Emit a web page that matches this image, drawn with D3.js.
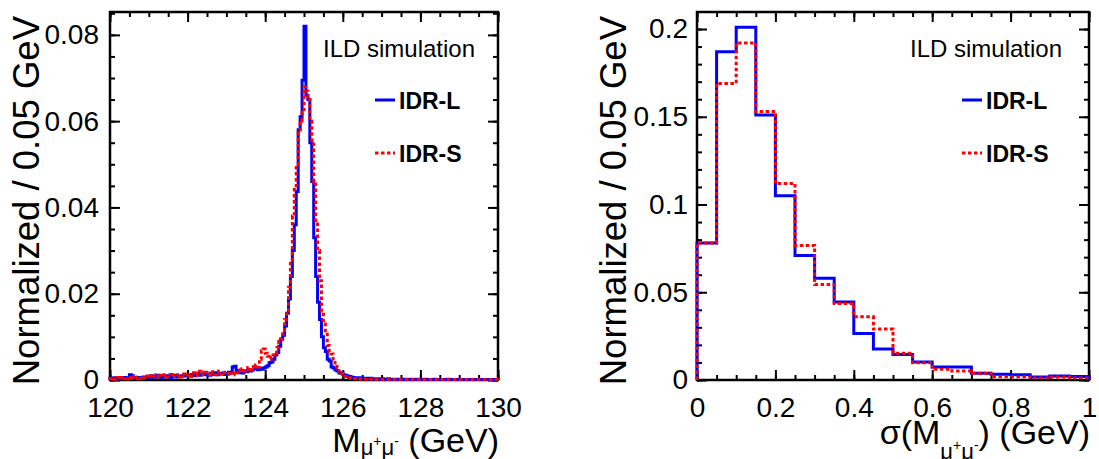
<!DOCTYPE html>
<html>
<head>
<meta charset="utf-8">
<script src="https://cdn.jsdelivr.net/npm/d3@7"></script>
<style>
    body { margin: 0; background: #fff; }
    svg { display: block; font-family: "Liberation Sans", Arial, Helvetica, sans-serif; }
</style>
</head>
<body>
<div id="chart"></div>
<script>
// left panel: dimuon mass, 200 bins of 0.05 GeV starting at 120 GeV
const massStart = 120;
const massBinWidth = 0.05;
const massIDRL = [
    0.0004, 0.0003, 0.0005, 0.0004, 0.0003, 0.0005, 0.0004, 0.0006, 0.0004, 0.0005,
    0.0012, 0.0010, 0.0005, 0.0004, 0.0006, 0.0005, 0.0004, 0.0007, 0.0005, 0.0006,
    0.0008, 0.0010, 0.0006, 0.0007, 0.0011, 0.0008, 0.0006, 0.0009, 0.0007, 0.0010,
    0.0008, 0.0006, 0.0009, 0.0011, 0.0007, 0.0009, 0.0008, 0.0010, 0.0012, 0.0009,
    0.0011, 0.0009, 0.0013, 0.0010, 0.0012, 0.0015, 0.0011, 0.0013, 0.0016, 0.0012,
    0.0014, 0.0011, 0.0015, 0.0013, 0.0017, 0.0012, 0.0015, 0.0014, 0.0016, 0.0013,
    0.0015, 0.0018, 0.0016, 0.0030, 0.0032, 0.0022, 0.0017, 0.0020, 0.0016, 0.0021,
    0.0019, 0.0024, 0.0021, 0.0023, 0.0030, 0.0026, 0.0024, 0.0028, 0.0025, 0.0028,
    0.0030, 0.0033, 0.0040, 0.0042, 0.0048, 0.0058, 0.0064, 0.0078, 0.0095, 0.0104,
    0.0125, 0.0155, 0.0188, 0.0240, 0.0300, 0.0360, 0.0437, 0.0580, 0.0610, 0.0695,
    0.0820, 0.0660, 0.0650, 0.0550, 0.0460, 0.0330, 0.0240, 0.0180, 0.0140, 0.0100,
    0.0075, 0.0066, 0.0048, 0.0044, 0.0030, 0.0028, 0.0023, 0.0021, 0.0016, 0.0017,
    0.0012, 0.0011, 0.0009, 0.0008, 0.0007, 0.0006, 0.0005, 0.0005, 0.0004, 0.0005,
    0.0004, 0.0003, 0.0004, 0.0003, 0.0004, 0.0003, 0.0002, 0.0003, 0.0003, 0.0002,
    0.0003, 0.0002, 0.0002, 0.0003, 0.0002, 0.0002, 0.0001, 0.0002, 0.0002, 0.0001,
    0.0002, 0.0001, 0.0002, 0.0001, 0.0001, 0.0002, 0.0001, 0.0001, 0.0002, 0.0001,
    0.0001, 0.0001, 0.0002, 0.0001, 0.0001, 0.0001, 0.0001, 0.0002, 0.0001, 0.0001,
    0.0001, 0.0001, 0.0001, 0.0001, 0.0002, 0.0001, 0.0001, 0.0001, 0.0001, 0.0001,
    0.0001, 0.0001, 0.0001, 0.0001, 0.0001, 0.0001, 0.0001, 0.0001, 0.0001, 0.0001,
    0.0001, 0.0001, 0.0001, 0.0001, 0.0001, 0.0001, 0.0001, 0.0001, 0.0001, 0.0001
];
const massIDRS = [
    0.0003, 0.0005, 0.0002, 0.0004, 0.0006, 0.0003, 0.0005, 0.0007, 0.0003, 0.0006,
    0.0004, 0.0008, 0.0005, 0.0003, 0.0007, 0.0004, 0.0008, 0.0005, 0.0006, 0.0009,
    0.0006, 0.0009, 0.0012, 0.0007, 0.0010, 0.0006, 0.0011, 0.0008, 0.0012, 0.0007,
    0.0010, 0.0013, 0.0008, 0.0011, 0.0009, 0.0012, 0.0007, 0.0011, 0.0014, 0.0010,
    0.0012, 0.0008, 0.0014, 0.0017, 0.0011, 0.0015, 0.0020, 0.0014, 0.0012, 0.0018,
    0.0016, 0.0013, 0.0019, 0.0015, 0.0012, 0.0017, 0.0021, 0.0014, 0.0018, 0.0016,
    0.0013, 0.0019, 0.0015, 0.0012, 0.0020, 0.0017, 0.0023, 0.0018, 0.0026, 0.0021,
    0.0025, 0.0029, 0.0024, 0.0031, 0.0027, 0.0035, 0.0030, 0.0048, 0.0068, 0.0072,
    0.0062, 0.0055, 0.0048, 0.0052, 0.0058, 0.0062, 0.0075, 0.0090, 0.0095, 0.0115,
    0.0140, 0.0160, 0.0215, 0.0270, 0.0380, 0.0450, 0.0500, 0.0580, 0.0600, 0.0620,
    0.0680, 0.0670, 0.0650, 0.0600, 0.0556, 0.0460, 0.0370, 0.0300, 0.0230, 0.0160,
    0.0130, 0.0110, 0.0080, 0.0065, 0.0060, 0.0045, 0.0035, 0.0028, 0.0020, 0.0015,
    0.0012, 0.0008, 0.0006, 0.0005, 0.0004, 0.0004, 0.0003, 0.0003, 0.0002, 0.0003,
    0.0002, 0.0002, 0.0002, 0.0001, 0.0002, 0.0001, 0.0001, 0.0001, 0.0001, 0.0001,
    0.0001, 0.0001, 0.0001, 0.0001, 0.0001, 0.0001, 0.0001, 0.0001, 0.0001, 0.0001,
    0.0001, 0.0001, 0.0001, 0.0001, 0.0001, 0.0001, 0.0001, 0.0001, 0.0001, 0.0001,
    0.0001, 0.0001, 0.0001, 0.0001, 0.0001, 0.0001, 0.0001, 0.0001, 0.0001, 0.0001,
    0.0001, 0.0001, 0.0001, 0.0001, 0.0001, 0.0001, 0.0001, 0.0001, 0.0001, 0.0001,
    0.0001, 0.0001, 0.0001, 0.0001, 0.0001, 0.0001, 0.0001, 0.0001, 0.0001, 0.0001,
    0.0001, 0.0001, 0.0001, 0.0001, 0.0001, 0.0001, 0.0001, 0.0001, 0.0001, 0.0001
];

// right panel: mass resolution, 20 bins of 0.05 GeV starting at 0
const sigmaStart = 0;
const sigmaBinWidth = 0.05;
const sigmaIDRL = [0.078, 0.187, 0.201, 0.151, 0.105, 0.071, 0.058, 0.0445, 0.0265, 0.0176,
                   0.0146, 0.0102, 0.0074, 0.0074, 0.0038, 0.0033, 0.0030, 0.0017, 0.0023, 0.0020];
const sigmaIDRS = [0.078, 0.169, 0.192, 0.153, 0.112, 0.0767, 0.0544, 0.0436, 0.036, 0.029,
                   0.0152, 0.0098, 0.0061, 0.0051, 0.0038, 0.0019, 0.0019, 0.0011, 0.0017, 0.0011];

// tick labels
const massXTicks = [120, 122, 124, 126, 128, 130];
const massYTicks = [0, 0.02, 0.04, 0.06, 0.08];
const sigmaXTicks = [0, 0.2, 0.4, 0.6, 0.8, 1];
const sigmaYTicks = [0, 0.05, 0.1, 0.15, 0.2];

const seriesNames = ["IDR-L", "IDR-S"];
const seriesColors = ["#0000ff", "#ff0000"];

const width = 1099, height = 459;

const svg = d3.select("#chart").append("svg")
    .attr("width", width)
    .attr("height", height);

svg.append("rect").attr("width", width).attr("height", height).attr("fill", "#fff");

class HistPanel {

    constructor(svg, cfg) {
        this.svg = svg;
        this.cfg = cfg;
        this.initVis();
    }

    initVis() {
        let vis = this;
        let c = vis.cfg;

        vis.g = vis.svg.append("g");

        vis.x = d3.scaleLinear().domain(c.xDomain).range([c.left, c.right]);
        vis.y = d3.scaleLinear().domain(c.yDomain).range([c.bottom, c.top]);

        vis.drawAxes();
        vis.drawHists();
        vis.drawText();
    }

    drawAxes() {
        let vis = this;
        let c = vis.cfg;

        const styleAxis = g => {
            g.select(".domain").remove();
            g.attr("font-family", null).attr("font-size", 28);
            g.selectAll("line").attr("stroke", "#000").attr("stroke-width", 2);
            g.selectAll("text").attr("fill", "#000");
        };

        // minor ticks first, majors on top
        vis.g.append("g").attr("transform", `translate(0,${c.bottom})`)
            .call(d3.axisBottom(vis.x).tickValues(c.xMinor).tickSize(-5).tickFormat(""))
            .call(styleAxis);
        vis.g.append("g").attr("transform", `translate(0,${c.top})`)
            .call(d3.axisTop(vis.x).tickValues(c.xMinor).tickSize(-5).tickFormat(""))
            .call(styleAxis);
        vis.g.append("g").attr("transform", `translate(${c.left},0)`)
            .call(d3.axisLeft(vis.y).tickValues(c.yMinor).tickSize(-5).tickFormat(""))
            .call(styleAxis);
        vis.g.append("g").attr("transform", `translate(${c.right},0)`)
            .call(d3.axisRight(vis.y).tickValues(c.yMinor).tickSize(-5).tickFormat(""))
            .call(styleAxis);

        vis.g.append("g").attr("transform", `translate(0,${c.bottom})`)
            .call(d3.axisBottom(vis.x).tickValues(c.xTicks).tickSize(-10).tickPadding(17)
                .tickFormat(d3.format("~g")))
            .call(styleAxis);
        vis.g.append("g").attr("transform", `translate(0,${c.top})`)
            .call(d3.axisTop(vis.x).tickValues(c.xTicks).tickSize(-10).tickFormat(""))
            .call(styleAxis);
        vis.g.append("g").attr("transform", `translate(${c.left},0)`)
            .call(d3.axisLeft(vis.y).tickValues(c.yTicks).tickSize(-10).tickPadding(c.yPad)
                .tickFormat(d3.format("~g")))
            .call(styleAxis);
        vis.g.append("g").attr("transform", `translate(${c.right},0)`)
            .call(d3.axisRight(vis.y).tickValues(c.yTicks).tickSize(-10).tickFormat(""))
            .call(styleAxis);

        // frame
        vis.g.append("rect")
            .attr("x", c.left)
            .attr("y", c.top)
            .attr("width", c.right - c.left)
            .attr("height", c.bottom - c.top)
            .attr("fill", "none")
            .attr("stroke", "#000")
            .attr("stroke-width", 2.5);
    }

    drawHists() {
        let vis = this;
        let c = vis.cfg;

        // outline of a histogram: up from zero at the first edge, steps, back to zero
        const stepPoints = values => {
            let pts = [[c.start, 0]];
            values.forEach((v, i) => {
                pts.push([c.start + i * c.binWidth, v]);
                pts.push([c.start + (i + 1) * c.binWidth, v]);
            });
            pts.push([c.start + values.length * c.binWidth, 0]);
            return pts;
        };

        const line = d3.line()
            .x(d => vis.x(d[0]))
            .y(d => vis.y(d[1]));

        c.series.forEach((values, k) => {
            vis.g.append("path")
                .attr("d", line(stepPoints(values)))
                .attr("fill", "none")
                .attr("stroke", seriesColors[k])
                .attr("stroke-width", 3)
                .attr("stroke-linejoin", "miter")
                .attr("stroke-dasharray", k === 1 ? "3.5,2.5" : null);
        });
    }

    drawText() {
        let vis = this;
        let c = vis.cfg;

        // y title
        vis.g.append("text")
            .attr("transform", `translate(${c.yTitleX},16) rotate(-90)`)
            .attr("text-anchor", "end")
            .attr("font-size", 36.5)
            .text("Normalized / 0.05 GeV");

        // x title
        c.xTitle(vis.g.append("text")
            .attr("x", c.right + 1)
            .attr("y", c.xTitleY)
            .attr("text-anchor", "end")
            .attr("font-size", 34));

        // label and legend
        let lx = c.left + 213;
        vis.g.append("text")
            .attr("x", lx)
            .attr("y", 57)
            .attr("font-size", 24)
            .text("ILD simulation");

        seriesNames.forEach((name, k) => {
            let ly = 100 + k * 53;
            vis.g.append("line")
                .attr("x1", c.left + 265).attr("x2", c.left + 285)
                .attr("y1", ly).attr("y2", ly)
                .attr("stroke", seriesColors[k])
                .attr("stroke-width", 3)
                .attr("stroke-dasharray", k === 1 ? "3.5,2.5" : null);
            vis.g.append("text")
                .attr("x", c.left + 289)
                .attr("y", ly + 9)
                .attr("font-size", 23)
                .attr("font-weight", "bold")
                .text(name);
        });
    }
}

// subscript mu+mu- as tspans
const muPair = (t, drop) => {
    t.append("tspan").attr("font-size", 22).attr("dy", drop).text("\u03bc");
    t.append("tspan").attr("font-size", 14).attr("dy", -9).text("+");
    t.append("tspan").attr("font-size", 22).attr("dy", 9).text("\u03bc");
    t.append("tspan").attr("font-size", 14).attr("dy", -9).text("-");
};

new HistPanel(svg, {
    left: 110, right: 498, top: 12, bottom: 380,
    xDomain: [120, 130], yDomain: [0, 0.0853],
    xTicks: massXTicks, yTicks: massYTicks,
    xMinor: d3.range(120, 130.01, 0.5),
    yMinor: d3.range(0, 0.0851, 0.005),
    start: massStart, binWidth: massBinWidth,
    series: [massIDRL, massIDRS],
    yPad: 11, yTitleX: 39, xTitleY: 452,
    xTitle: t => {
        t.append("tspan").text("M");
        muPair(t, 3);
        t.append("tspan").attr("dy", 6).text("\u00a0(GeV)");
    }
});

new HistPanel(svg, {
    left: 697, right: 1089, top: 12, bottom: 380,
    xDomain: [0, 1], yDomain: [0, 0.2097],
    xTicks: sigmaXTicks, yTicks: sigmaYTicks,
    xMinor: d3.range(0, 1.001, 0.05),
    yMinor: d3.range(0, 0.2091, 0.01),
    start: sigmaStart, binWidth: sigmaBinWidth,
    series: [sigmaIDRL, sigmaIDRS],
    yPad: 9, yTitleX: 626, xTitleY: 444,
    xTitle: t => {
        t.append("tspan").text("\u03c3(M");
        muPair(t, 15);
        t.append("tspan").attr("dy", -6).text(")");
        t.append("tspan").text("\u00a0(GeV)");
    }
});
</script>
</body>
</html>
